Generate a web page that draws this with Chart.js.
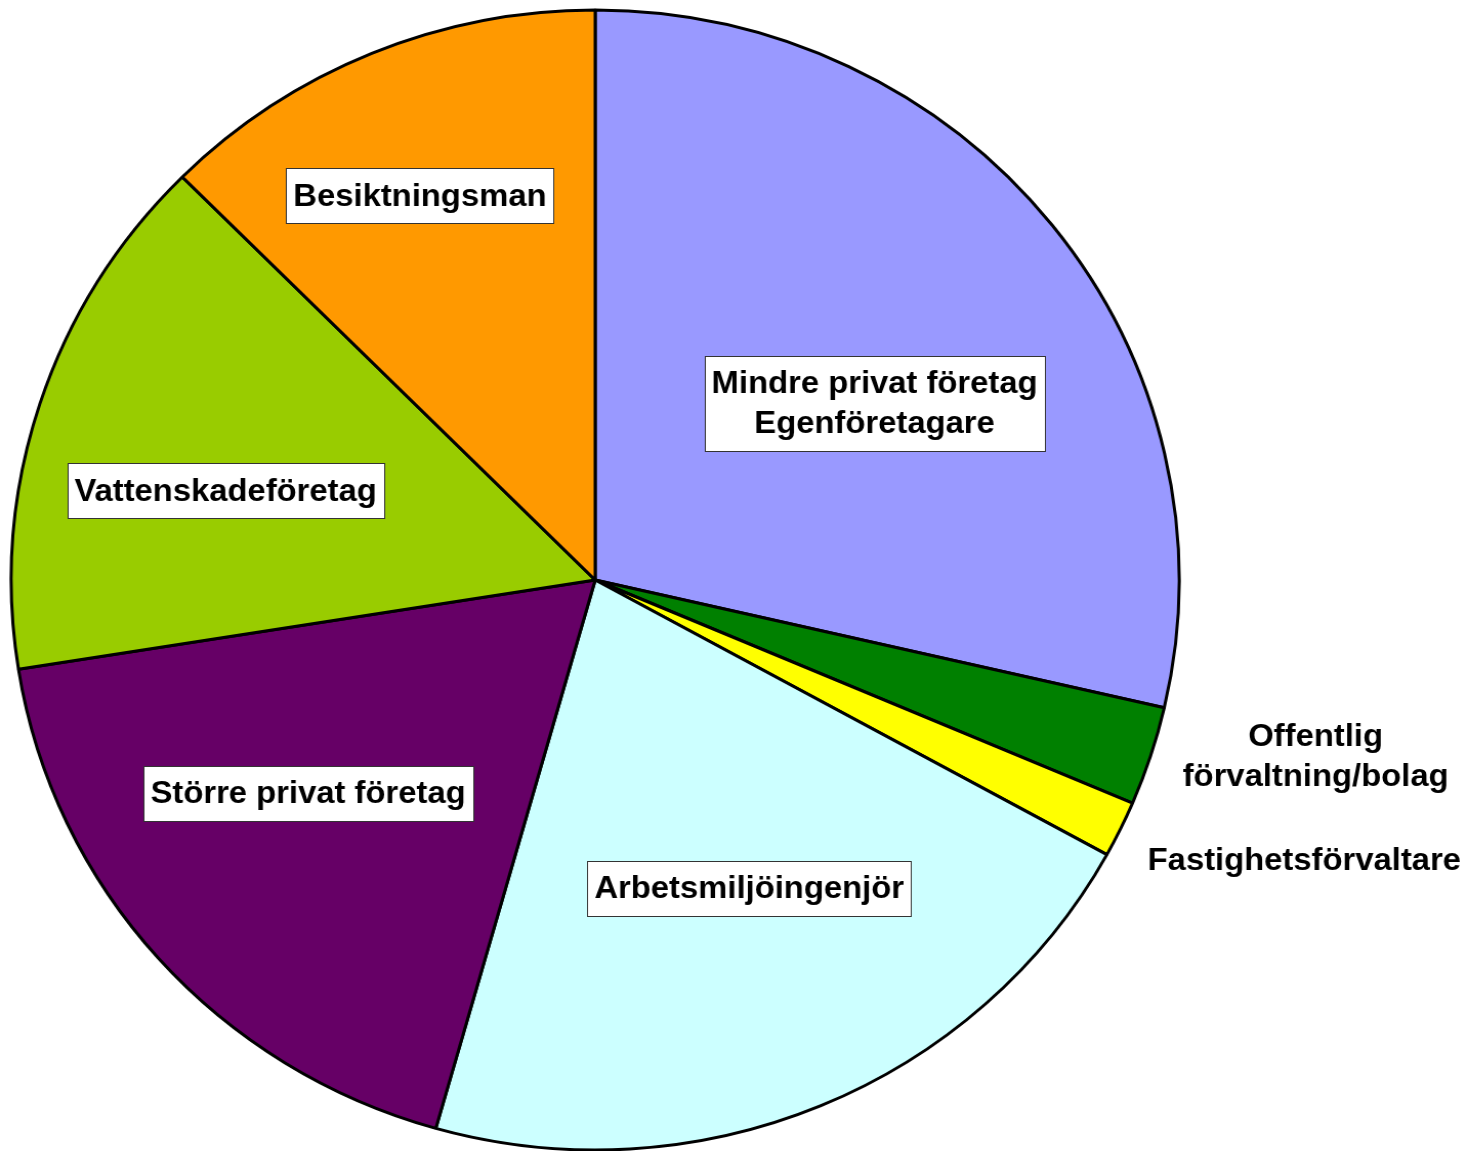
<!DOCTYPE html>
<html>
<head>
<meta charset="utf-8">
<script src="https://cdn.jsdelivr.net/npm/chart.js@4.4.1/dist/chart.umd.min.js"></script>
<style>
  html, body { margin: 0; padding: 0; background: #ffffff; }
  #wrap { width: 1468px; height: 1151px; overflow: hidden; }
</style>
</head>
<body>
<div id="wrap">
  <!-- drawn a bit narrower and stretched to the page width: the original pie is slightly oval -->
  <canvas id="myChart" width="1433" height="1151" style="width:1468px;height:1151px;display:block"></canvas>
</div>
<script>
// Categories (clockwise from 12 o'clock)
const categories = [
    ["Mindre privat företag", "Egenföretagare"],
    ["Offentlig", "förvaltning/bolag"],
    ["Fastighetsförvaltare"],
    ["Arbetsmiljöingenjör"],
    ["Större privat företag"],
    ["Vattenskadeföretag"],
    ["Besiktningsman"]
];

// Share of answers, percent
const shares = [28.6, 2.8, 1.6, 21.4, 18.1, 15.0, 12.5];

const sliceColors = ["#9999FF", "#008000", "#FFFF00", "#CCFFFF", "#660066", "#99CC00", "#FF9900"];

// Label placement: fraction of radius, angle shift from slice middle (deg), boxed or not
const labelRadius = [0.570, 1.272, 1.310, 0.602, 0.618, 0.652, 0.738];
const labelShift = [5.6, -3.9, -3.9, -3.3, 4.3, -4.1, -1.5];
const labelBoxed = [true, false, false, true, true, true, true];

const sliceLabels = {
    id: "sliceLabels",
    afterDatasetsDraw(chart) {
        const ctx = chart.ctx;
        const arcs = chart.getDatasetMeta(0).data;
        const lineH = 40;
        ctx.save();
        ctx.font = "bold 32px 'Liberation Sans', Arial, sans-serif";
        ctx.textAlign = "center";
        ctx.textBaseline = "middle";
        arcs.forEach((arc, i) => {
            const p = arc.getProps(["x", "y", "startAngle", "endAngle", "outerRadius"], true);
            const mid = (p.startAngle + p.endAngle) / 2 + labelShift[i] * Math.PI / 180;
            const r = p.outerRadius * labelRadius[i];
            const cx = p.x + Math.cos(mid) * r;
            const cy = p.y + Math.sin(mid) * r;
            const lines = categories[i];
            if (labelBoxed[i]) {
                const w = Math.round(Math.max(...lines.map(l => ctx.measureText(l).width)) + 14);
                const h = lines.length * lineH + 15;
                const bx = Math.round(cx - w / 2) + 0.5;
                const by = Math.round(cy - h / 2) + 0.5;
                ctx.fillStyle = "#ffffff";
                ctx.fillRect(bx, by, w, h);
                ctx.strokeStyle = "#333333";
                ctx.lineWidth = 1;
                ctx.strokeRect(bx, by, w, h);
            }
            ctx.fillStyle = "#000000";
            lines.forEach((line, k) => {
                ctx.fillText(line, cx, cy + (k - (lines.length - 1) / 2) * lineH + 1);
            });
        });
        ctx.restore();
    }
};

const canvas = document.getElementById("myChart");
const ctx = canvas.getContext("2d");

new Chart(ctx, {
    type: "pie",
    data: {
        labels: categories,
        datasets: [{
            data: shares,
            backgroundColor: sliceColors,
            borderColor: "#000000",
            borderWidth: 3,
            clip: false
        }]
    },
    options: {
        responsive: false,
        maintainAspectRatio: false,
        devicePixelRatio: 1,
        animation: false,
        radius: 570,
        layout: {
            padding: { left: 0, right: 271, top: 9, bottom: 0 }
        },
        plugins: {
            legend: { display: false },
            tooltip: { enabled: false }
        }
    },
    plugins: [sliceLabels]
});
</script>
</body>
</html>
